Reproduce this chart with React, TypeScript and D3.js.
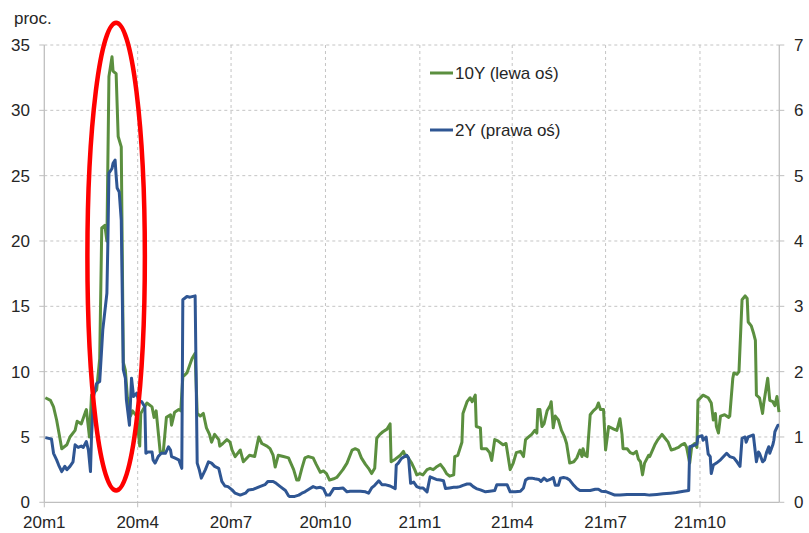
import React from "react";
import * as d3 from "d3";

// 10Y yield volatility (left axis, %) : [day since 2020-01-01, value]
const tenY: [number, number][] = [
  [1, 8.0], [6, 7.8], [9, 7.3], [12, 6.3], [15, 5.0], [17, 4.1], [22, 4.4], [25, 5.0],
  [30, 5.5], [32, 6.2], [36, 6.0], [40, 6.9], [41, 7.1], [44, 5.0], [46, 8.2], [51, 8.6],
  [54, 11.0], [56, 21.0], [59, 21.2], [61, 20.0], [63, 32.6], [66, 34.1], [67, 33.0],
  [70, 32.8], [72, 28.0], [75, 27.2], [77, 10.7], [79, 10.1], [81, 8.0], [84, 6.6],
  [86, 7.0], [90, 6.6], [93, 4.3], [94, 6.8], [100, 7.6], [105, 7.3], [107, 6.5],
  [109, 7.0], [113, 3.8], [116, 3.9], [119, 6.5], [123, 6.7], [124, 5.9], [127, 6.9],
  [131, 7.1], [133, 7.0], [135, 9.6], [139, 9.9], [144, 11.0], [147, 11.4], [149, 6.8],
  [152, 6.6], [155, 6.8], [158, 5.7], [161, 5.2], [163, 4.6], [166, 5.2], [170, 4.8],
  [171, 4.3], [174, 4.5], [178, 4.8], [181, 4.6], [183, 4.0], [186, 3.5], [191, 4.0],
  [194, 3.1], [200, 3.6], [205, 3.5], [209, 5.0], [212, 4.5], [217, 4.3], [220, 4.1],
  [223, 3.6], [225, 2.7], [228, 3.6], [233, 3.5], [238, 3.4], [243, 2.5], [246, 1.7],
  [248, 1.7], [251, 2.6], [254, 3.4], [257, 3.5], [262, 3.4], [265, 2.9], [269, 2.3],
  [272, 2.4], [275, 2.2], [278, 1.7], [282, 1.8], [285, 1.9], [288, 2.2], [291, 2.5],
  [295, 3.0], [300, 4.0], [303, 4.1], [306, 4.0], [309, 3.4], [313, 2.9], [316, 2.6],
  [319, 2.2], [322, 2.6], [324, 4.9], [327, 5.2], [330, 5.4], [334, 5.6], [337, 6.0],
  [338, 3.1], [342, 3.3], [347, 3.6], [350, 3.9], [352, 3.5], [353, 3.6], [358, 3.0],
  [361, 2.5], [363, 2.1], [366, 2.2], [369, 2.1], [373, 2.5], [376, 2.6], [379, 2.5],
  [382, 2.7], [386, 2.9], [389, 2.6], [392, 2.2], [395, 2.0], [399, 2.1], [400, 3.5],
  [403, 3.6], [407, 4.6], [408, 6.8], [412, 7.7], [415, 8.0], [417, 7.7], [420, 8.2],
  [421, 5.8], [425, 5.7], [426, 4.1], [431, 4.1], [434, 3.8], [436, 3.2], [439, 4.8],
  [442, 4.7], [447, 4.4], [450, 4.5], [452, 3.5], [454, 2.5], [457, 3.0], [460, 3.8],
  [464, 3.9], [467, 3.5], [469, 4.8], [472, 5.0], [475, 5.2], [478, 5.5], [480, 5.3],
  [481, 7.1], [483, 7.1], [485, 5.8], [487, 6.0], [490, 7.0], [493, 7.4], [494, 7.7],
  [496, 5.7], [498, 6.6], [501, 6.3], [504, 5.5], [507, 5.0], [509, 4.5], [512, 3.0],
  [516, 3.1], [519, 3.4], [522, 4.0], [524, 3.5], [525, 4.1], [527, 3.6], [529, 3.5],
  [532, 6.7], [535, 7.0], [538, 7.2], [540, 7.6], [542, 7.1], [545, 7.1], [547, 4.0],
  [550, 5.8], [555, 5.6], [558, 5.5], [561, 6.4], [563, 5.2], [564, 4.1], [568, 4.1],
  [571, 3.8], [574, 3.7], [577, 3.9], [579, 3.3], [581, 3.1], [583, 2.1], [585, 3.0],
  [589, 3.6], [590, 3.5], [595, 4.4], [598, 4.8], [602, 5.2], [605, 4.9], [608, 4.6],
  [611, 4.0], [615, 4.1], [618, 4.2], [621, 4.4], [624, 4.5], [626, 4.2], [629, 3.0],
  [631, 4.3], [634, 4.5], [636, 4.2], [637, 7.8], [642, 8.2], [647, 8.0], [650, 7.6],
  [652, 6.3], [654, 6.8], [655, 5.8], [657, 5.3], [659, 6.6], [663, 6.7], [667, 6.5],
  [668, 6.6], [671, 9.5], [672, 9.9], [675, 9.8], [677, 10.0], [680, 15.5], [683, 15.8],
  [685, 15.6], [686, 13.8], [689, 13.5], [691, 13.0], [693, 12.4], [694, 8.2], [697, 8.0],
  [700, 6.8], [701, 7.5], [705, 9.5], [707, 7.8], [710, 7.7], [712, 7.4], [714, 8.1],
  [716, 6.9],
];

// 2Y yield volatility (right axis, %) : [day since 2020-01-01, value]
const twoY: [number, number][] = [
  [1, 0.99], [7, 0.97], [9, 0.75], [12, 0.65], [14, 0.57], [17, 0.47], [20, 0.55],
  [22, 0.5], [25, 0.55], [28, 0.62], [30, 0.88], [33, 0.84], [36, 0.86], [38, 0.84],
  [41, 0.93], [43, 0.8], [45, 0.47], [46, 1.0], [48, 1.62], [51, 1.82], [54, 1.85],
  [57, 2.64], [61, 3.2], [62, 4.02], [63, 5.04], [66, 5.11], [67, 5.19], [69, 5.24],
  [70, 5.0], [71, 4.81], [73, 4.75], [75, 4.32], [77, 2.03], [79, 1.9], [80, 1.57],
  [83, 1.18], [85, 1.9], [87, 1.62], [90, 1.67], [92, 1.55], [95, 1.54], [98, 1.46],
  [99, 0.75], [101, 0.77], [105, 0.77], [106, 0.65], [108, 0.6], [111, 0.7], [114, 0.75],
  [118, 0.75], [121, 0.85], [123, 0.8], [124, 0.7], [127, 0.68], [131, 0.65], [134, 0.52],
  [135, 3.1], [139, 3.15], [142, 3.14], [147, 3.16], [149, 0.6], [151, 0.5], [153, 0.37],
  [157, 0.5], [160, 0.62], [163, 0.6], [166, 0.55], [170, 0.52], [173, 0.32], [176, 0.25],
  [179, 0.24], [183, 0.19], [186, 0.14], [191, 0.11], [196, 0.14], [199, 0.19], [204, 0.2],
  [207, 0.22], [210, 0.24], [215, 0.27], [218, 0.32], [223, 0.32], [226, 0.29], [230, 0.24],
  [235, 0.18], [238, 0.1], [239, 0.09], [244, 0.09], [248, 0.11], [251, 0.14], [254, 0.16],
  [259, 0.21], [262, 0.24], [265, 0.22], [269, 0.23], [272, 0.21], [275, 0.11], [278, 0.11],
  [282, 0.21], [287, 0.21], [291, 0.22], [295, 0.16], [298, 0.17], [303, 0.17], [308, 0.17],
  [313, 0.16], [316, 0.14], [319, 0.22], [322, 0.26], [326, 0.33], [329, 0.27], [332, 0.27],
  [337, 0.25], [342, 0.21], [343, 0.57], [345, 0.6], [348, 0.67], [352, 0.71], [353, 0.72],
  [355, 0.68], [357, 0.29], [360, 0.31], [363, 0.24], [366, 0.22], [369, 0.22], [373, 0.16],
  [376, 0.39], [379, 0.37], [382, 0.35], [386, 0.34], [389, 0.33], [391, 0.21], [395, 0.22],
  [399, 0.23], [402, 0.23], [405, 0.24], [408, 0.26], [412, 0.28], [415, 0.28], [418, 0.24],
  [421, 0.21], [425, 0.19], [430, 0.16], [434, 0.17], [439, 0.18], [441, 0.27], [446, 0.27],
  [451, 0.27], [454, 0.16], [459, 0.16], [464, 0.17], [467, 0.22], [469, 0.34], [472, 0.37],
  [475, 0.37], [478, 0.36], [482, 0.35], [484, 0.32], [487, 0.37], [490, 0.33], [493, 0.35],
  [496, 0.38], [498, 0.26], [501, 0.26], [503, 0.37], [506, 0.38], [509, 0.37], [512, 0.34],
  [516, 0.26], [519, 0.21], [522, 0.18], [527, 0.18], [532, 0.18], [537, 0.2], [540, 0.2],
  [543, 0.17], [548, 0.16], [553, 0.13], [556, 0.11], [561, 0.11], [568, 0.12], [574, 0.12],
  [581, 0.12], [585, 0.12], [590, 0.11], [597, 0.12], [603, 0.13], [610, 0.14], [616, 0.15],
  [623, 0.17], [628, 0.18], [629, 0.85], [633, 0.87], [636, 0.89], [637, 1.0], [641, 1.02],
  [642, 0.95], [645, 1.0], [647, 0.74], [649, 0.7], [650, 0.44], [652, 0.57], [655, 0.6],
  [659, 0.65], [662, 0.7], [665, 0.75], [668, 0.7], [672, 0.68], [675, 0.62], [678, 0.55],
  [680, 0.98], [683, 1.0], [684, 0.92], [686, 1.0], [691, 1.03], [694, 0.62], [696, 0.77],
  [697, 0.75], [700, 0.62], [702, 0.65], [704, 0.77], [706, 0.85], [707, 0.75], [710, 0.88],
  [711, 0.95], [712, 1.08], [715, 1.18], [716, 1.18],
];

const leftTicks = [0, 5, 10, 15, 20, 25, 30, 35];
const rightTicks = [0, 1, 2, 3, 4, 5, 6, 7];
const seriesNames = ["10Y (lewa oś)", "2Y (prawa oś)"];
const yAxisTitle = "proc.";
// highlighted period (annotation ellipse): days and value range on left axis
const highlightDays = [42, 98];
const highlightValues = [0.9, 36.7];

const START = Date.UTC(2020, 0, 1);
const DAY = 864e5;
const toDate = (d: number) => new Date(START + d * DAY);
const END_DAY = 716.3;

const W = 809;
const H = 533;
const M = { left: 44.3, right: 779.3, top: 45, bottom: 502.3 };

const GREEN = "#5b8f3f";
const BLUE = "#2f5693";
const GRID = "#c4c4c4";
const AXIS = "#bfbfbf";
const FONT = "'Liberation Sans', Arial, sans-serif";
const TEXT = "#262626";

export default function App() {
  const x = d3.scaleUtc().domain([toDate(0), toDate(END_DAY)]).range([M.left, M.right]);
  const yL = d3.scaleLinear().domain([0, 35]).range([M.bottom, M.top]);
  const yR = d3.scaleLinear().domain([0, 7]).range([M.bottom, M.top]);

  const monthTicks = d3.utcMonth.every(3)!.range(toDate(0), toDate(END_DAY));
  const label = (d: Date) => `${String(d.getUTCFullYear()).slice(2)}m${d.getUTCMonth() + 1}`;

  const lineL = d3
    .line<[number, number]>()
    .x((d) => x(toDate(d[0])))
    .y((d) => yL(d[1]));
  const lineR = d3
    .line<[number, number]>()
    .x((d) => x(toDate(d[0])))
    .y((d) => yR(d[1]));

  const ex0 = x(toDate(highlightDays[0]));
  const ex1 = x(toDate(highlightDays[1]));
  const ey0 = yL(highlightValues[1]);
  const ey1 = yL(highlightValues[0]);

  return (
    <svg
      width={W}
      height={H}
      style={{ position: "absolute", left: 0, top: 0, background: "#fff" }}
      fontFamily={FONT}
    >
      <rect width={W} height={H} fill="#fff" />
      {/* horizontal gridlines */}
      {leftTicks.slice(1).map((t) => (
        <line
          key={"h" + t}
          x1={M.left}
          x2={M.right}
          y1={yL(t)}
          y2={yL(t)}
          stroke={GRID}
          strokeDasharray="3,3"
          strokeWidth={1}
        />
      ))}
      {/* vertical gridlines */}
      {monthTicks.slice(1).map((d, i) => (
        <line
          key={"v" + i}
          x1={x(d)}
          x2={x(d)}
          y1={M.top}
          y2={M.bottom}
          stroke={GRID}
          strokeDasharray="3,3"
          strokeWidth={1}
        />
      ))}
      {/* axes */}
      <line x1={M.left} x2={M.left} y1={M.top} y2={M.bottom} stroke={AXIS} strokeWidth={1.3} />
      <line x1={M.right} x2={M.right} y1={M.top} y2={M.bottom} stroke={AXIS} strokeWidth={1.3} />
      <line x1={M.left} x2={M.right} y1={M.bottom} y2={M.bottom} stroke={AXIS} strokeWidth={1.3} />
      {leftTicks.map((t) => (
        <g key={"lt" + t}>
          <line x1={M.left - 5} x2={M.left} y1={yL(t)} y2={yL(t)} stroke={AXIS} />
          <text x={30} y={yL(t) + 6} textAnchor="end" fontSize={17} fill={TEXT}>
            {t}
          </text>
        </g>
      ))}
      {rightTicks.map((t) => (
        <g key={"rt" + t}>
          <line x1={M.right} x2={M.right + 5} y1={yR(t)} y2={yR(t)} stroke={AXIS} />
          <text x={794} y={yR(t) + 6} textAnchor="start" fontSize={17} fill={TEXT}>
            {t}
          </text>
        </g>
      ))}
      {monthTicks.map((d, i) => (
        <g key={"xt" + i}>
          <line x1={x(d)} x2={x(d)} y1={M.bottom} y2={M.bottom + 5} stroke={AXIS} />
          <text x={x(d)} y={528} textAnchor="middle" fontSize={17} fill={TEXT}>
            {label(d)}
          </text>
        </g>
      ))}
      <text x={14} y={24} fontSize={17} fill={TEXT}>
        {yAxisTitle}
      </text>

      {/* series */}
      <path d={lineL(tenY) || ""} fill="none" stroke={GREEN} strokeWidth={3} strokeLinejoin="round" />
      <path d={lineR(twoY) || ""} fill="none" stroke={BLUE} strokeWidth={3} strokeLinejoin="round" />

      {/* legend */}
      <line x1={430} x2={453} y1={73} y2={73} stroke={GREEN} strokeWidth={3} />
      <text x={455} y={79} fontSize={17} fill={TEXT}>
        {seriesNames[0]}
      </text>
      <line x1={430} x2={453} y1={130} y2={130} stroke={BLUE} strokeWidth={3} />
      <text x={455} y={136} fontSize={17} fill={TEXT}>
        {seriesNames[1]}
      </text>

      {/* annotation ellipse */}
      <ellipse
        cx={(ex0 + ex1) / 2}
        cy={(ey0 + ey1) / 2}
        rx={(ex1 - ex0) / 2}
        ry={(ey1 - ey0) / 2}
        fill="none"
        stroke="#ff0000"
        strokeWidth={4.5}
      />
    </svg>
  );
}
